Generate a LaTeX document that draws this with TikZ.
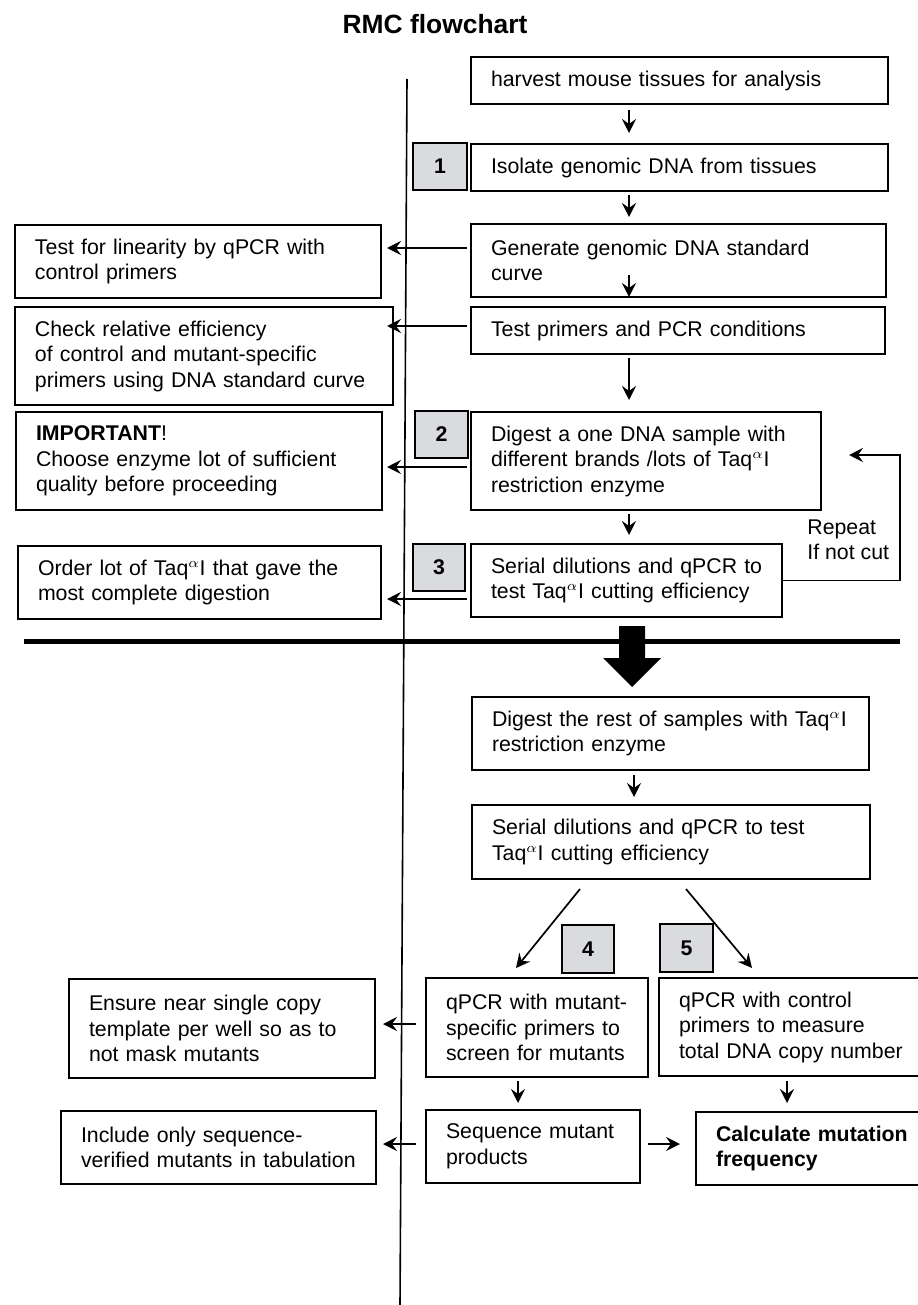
\documentclass[tikz,border=0pt]{standalone}
\usepackage{fontspec}
\setmainfont{Liberation Sans}
\usetikzlibrary{arrows.meta, calc}
\definecolor{numgray}{RGB}{218,219,222}

\begin{document}
\begin{tikzpicture}[x=0.5pt, y=-0.5pt,
    box/.style={draw, line width=1pt, anchor=north west, inner xsep=5pt, inner ysep=0pt,
        align=left, text width=#1, font=\fontsize{10.65}{12.75}\selectfont,
        execute at begin node={\leftskip=5pt}},
    numbox/.style={draw, line width=1pt, fill=numgray, anchor=north west, inner sep=0pt,
        minimum width=#1, minimum height=23.5pt, font=\bfseries\fontsize{10.65}{12.75}\selectfont},
    arr/.style={-{Stealth[length=7pt, width=7pt, inset=2.5pt]}, line width=0.85pt}]

        \useasboundingbox (0,0) rectangle (917,1305);

        % Title
        \node[font=\bfseries\fontsize{13.2}{16}\selectfont] (title) at (435,24) {RMC flowchart};

        % Divider lines
        \draw[line width=0.8pt] (407,79) -- (400,1305); % vertical
        \draw[line width=2.5pt] (24,641) -- (900,641); % horizontal

        % Right column, upper part
        \node[box=198.5pt, minimum height=23.5pt] (harv) at (470,56) {harvest mouse tissues for analysis};
        \node[box=198.5pt, minimum height=23.5pt] (iso) at (470,143) {Isolate genomic DNA from tissues};
        \node[box=197.5pt, minimum height=36.5pt] (gen) at (470,223) {Generate genomic DNA standard\\curve};
        \node[box=197pt, minimum height=23.5pt] (prim) at (470,306) {Test primers and PCR conditions};
        \node[box=165pt, minimum height=49pt] (dig) at (470,411) {Digest  a one DNA sample with\\different brands /lots of Taq\textsuperscript{$\alpha$}I\\restriction enzyme};
        \node[box=145.5pt, minimum height=36.5pt] (ser) at (470,543) {Serial dilutions and qPCR to\\test Taq\textsuperscript{$\alpha$}I cutting efficiency};

        % Left column, upper part
        \node[box=173pt, minimum height=36.5pt] (lin) at (14,224) {Test for linearity by qPCR with\\control primers};
        \node[box=179pt, minimum height=49pt] (chk) at (14,306) {Check relative efficiency\\of control and mutant-specific\\primers using DNA standard curve};
        \node[box=173pt, minimum height=49pt] (imp) at (15,411) {\textbf{IMPORTANT}!\\Choose enzyme lot of sufficient\\quality before proceeding};
        \node[box=171.5pt, minimum height=36.5pt] (ord) at (17,545) {Order lot of Taq\textsuperscript{$\alpha$}I that gave the\\most complete digestion};

        % Lower part
        \node[box=188.5pt, minimum height=36.5pt] (rest) at (471,696) {Digest  the rest of samples with Taq\textsuperscript{$\alpha$}I\\restriction enzyme};
        \node[box=189pt, minimum height=37pt] (ser2) at (471,804) {Serial dilutions and qPCR to test\\Taq\textsuperscript{$\alpha$}I cutting efficiency};
        \node[box=101pt, minimum height=49.5pt] (qmut) at (425,977) {qPCR with mutant-\\specific primers to\\screen for mutants};
        \node[box=126pt, minimum height=49pt] (qctl) at (658,977) {qPCR with control\\primers to measure\\total DNA copy number};
        \node[box=143pt, minimum height=49.5pt] (ens) at (68,978) {Ensure near single copy\\template per well so as to\\not mask mutants};
        \node[box=147.5pt, minimum height=36.5pt] (inc) at (60,1110) {Include only sequence-\\verified mutants in tabulation};
        \node[box=97pt, minimum height=36.5pt] (seq) at (425,1109) {Sequence mutant\\products};
        \node[box=107.5pt, minimum height=36.5pt] (calc) at (695,1111) {\bfseries Calculate mutation\\frequency};

        % Step numbers
        \node[numbox=27pt] (n1) at (412,142) {1};
        \node[numbox=26.5pt] (n2) at (414,410) {2};
        \node[numbox=26pt] (n3) at (412,543) {3};
        \node[numbox=26pt, minimum height=24pt] (n4) at (561,924) {4};
        \node[numbox=26.5pt, minimum height=24pt] (n5) at (659,923) {5};

        % Downward arrows
        \draw[arr] ($(harv.south)+(-50.5,5)$) -- ($(iso.north)+(-50.5,-10)$);
        \draw[arr] ($(iso.south)+(-50.5,3)$) -- ($(gen.north)+(-49.5,-6)$);
        \draw[arr] ($(gen.south)+(-49.5,-23)$) -- ($(prim.north)+(-49,-9)$);
        \draw[arr] ($(prim.south)+(-49,3)$) -- ($(dig.north)+(-17,-11)$);
        \draw[arr] ($(dig.south)+(-17,3)$) -- ($(ser.north)+(2.5,-8)$);
        \draw[arr] ($(rest.south)+(-36.5,4)$) -- ($(ser2.north)+(-37,-7)$);
        \draw[arr] ($(ser2.south)+(-91,9)$) -- ($(qmut.north)+(-21,-9)$);
        \draw[arr] ($(ser2.south)+(15,9)$) -- ($(qctl.north)+(-43,-9)$);
        \draw[arr] ($(qmut.south)+(-19,3)$) -- ($(seq.north)+(-15,-6)$);
        \draw[arr] ($(qctl.south)+(-8,4)$) -- ($(calc.north)+(-26.5,-8)$);

        % Side arrows
        \draw[arr] ($(gen.west)+(-3,-12.5)$) -- ($(lin.east)+(5,-13.5)$);
        \draw[arr] ($(prim.west)+(-3,-4.5)$) -- ($(chk.east)+(-7,-30)$);
        \draw[arr] ($(dig.west)+(-3,6)$) -- ($(imp.east)+(4,6)$);
        \draw[arr] ($(ser.west)+(-3,18.5)$) -- ($(ord.east)+(5,16.5)$);
        \draw[arr] ($(qmut.west)+(-9,-3.5)$) -- ($(ens.east)+(7,-4.5)$);
        \draw[arr] ($(seq.west)+(-9,-2.5)$) -- ($(inc.east)+(6,-3.5)$);
        \draw[arr] ($(seq.east)+(7,-2.5)$) -- ($(calc.west)+(-15,-4.5)$);

        % Repeat loop
        \draw[arr] (ser.east) -| ($(dig.east)+(78,-6)$) -- ($(dig.east)+(27,-6)$);
        \node[anchor=west, inner sep=0pt, align=left, font=\fontsize{10.65}{12.75}\selectfont] (rep) at (807,540) {Repeat\\If not cut};

        % Big arrow over the divider
        \fill ($(rest.north)+(-38.5,-9)$) coordinate (tip) -- ++(29,-29) -- ++(-16,0) -- ++(0,-32)
            -- ++(-26,0) -- ++(0,32) -- ++(-16,0) -- cycle;

\end{tikzpicture}
\end{document}
